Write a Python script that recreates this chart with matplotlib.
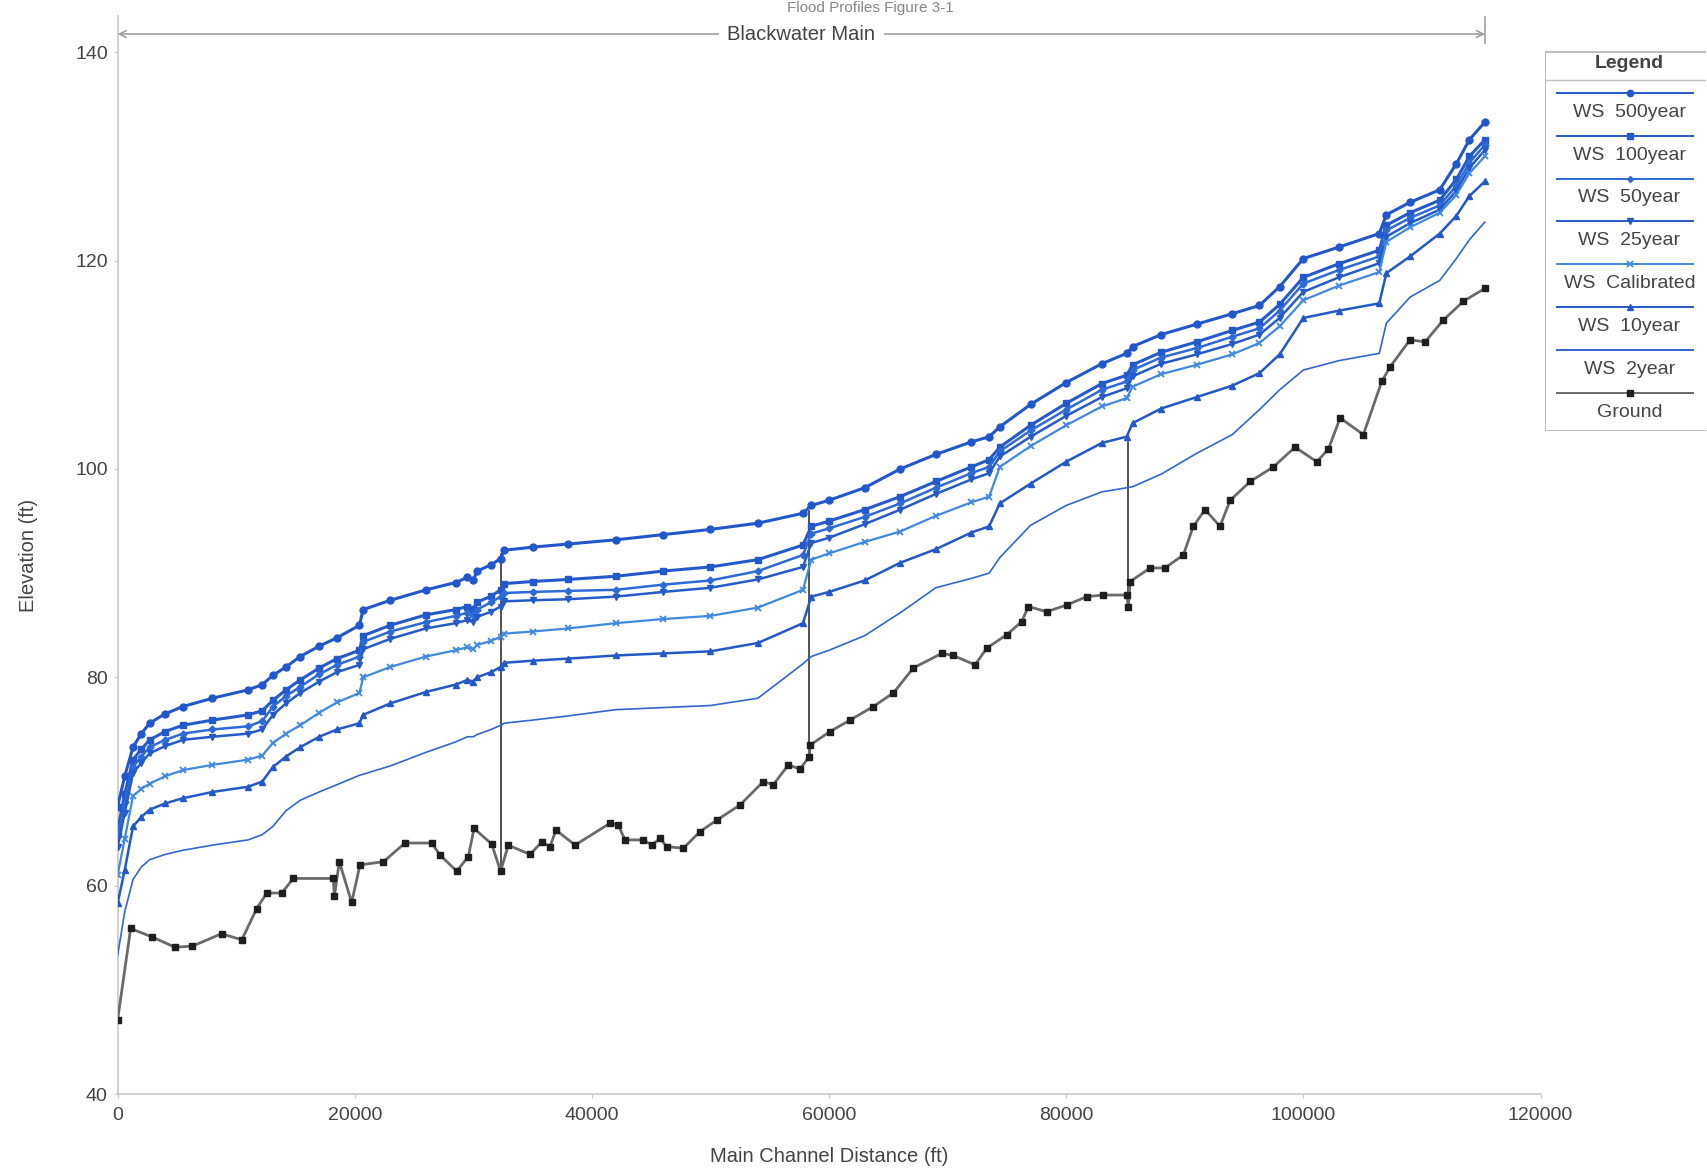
import matplotlib
matplotlib.use("Agg")
import matplotlib.pyplot as plt
from matplotlib.patches import Rectangle

plt.rcParams['font.family'] = ['Liberation Sans', 'DejaVu Sans']

# ---------------- data ----------------
stations = [0, 600, 1300, 2000, 2700, 4000, 5500, 8000, 11000, 12200, 13100, 14200,
            15400, 17000, 18500, 20400, 20700, 23000, 26000, 28500, 29500, 30000,
            30300, 31500, 32300, 32600, 35000, 38000, 42000, 46000, 50000, 54000,
            57800, 58500, 60000, 63000, 66000, 69000, 72000, 73500, 74400, 77000,
            80000, 83000, 85100, 85600, 88000, 91000, 94000, 96300, 98000, 100000,
            103000, 106400, 107000, 109000, 111500, 112900, 114000, 115300]

ws_500 = [67.6, 70.5, 73.3, 74.6, 75.6, 76.5, 77.2, 78.0, 78.8, 79.3, 80.2, 81.0,
          82.0, 83.0, 83.8, 85.0, 86.5, 87.4, 88.4, 89.1, 89.6, 89.3,
          90.2, 90.8, 91.4, 92.2, 92.5, 92.8, 93.2, 93.7, 94.2, 94.8,
          95.75, 96.5, 97.0, 98.2, 100.0, 101.4, 102.6, 103.1, 104.05, 106.2,
          108.3, 110.1, 111.1, 111.75, 112.9, 113.9, 114.9, 115.7, 117.5, 120.2,
          121.3, 122.6, 124.4, 125.6, 126.8, 129.3, 131.6, 133.3]

ws_100 = [65.3, 68.8, 72.1, 73.1, 74.0, 74.8, 75.4, 75.9, 76.4, 76.8, 77.8, 78.8,
          79.75, 80.9, 81.8, 82.6, 84.0, 85.0, 86.0, 86.5, 86.8, 86.6,
          87.2, 87.8, 88.4, 89.0, 89.2, 89.4, 89.7, 90.2, 90.6, 91.3,
          92.7, 94.5, 95.0, 96.1, 97.35, 98.8, 100.2, 100.9, 102.1, 104.2,
          106.3, 108.2, 109.0, 110.0, 111.2, 112.2, 113.3, 114.1, 115.8, 118.4,
          119.7, 121.0, 123.4, 124.6, 125.8, 127.8, 130.0, 131.6]

ws_50 = [64.8, 68.0, 71.4, 72.4, 73.3, 74.0, 74.6, 75.0, 75.3, 75.8, 77.2, 78.2,
         79.1, 80.3, 81.2, 82.0, 83.4, 84.4, 85.3, 85.9, 86.2, 86.0,
         86.5, 87.2, 87.75, 88.1, 88.2, 88.3, 88.4, 88.9, 89.3, 90.2,
         91.75, 93.8, 94.3, 95.4, 96.7, 98.2, 99.6, 100.2, 101.7, 103.7,
         105.7, 107.6, 108.4, 109.5, 110.7, 111.6, 112.7, 113.5, 115.2, 117.8,
         119.1, 120.4, 122.9, 124.1, 125.3, 127.2, 129.4, 131.1]

ws_25 = [63.7, 67.0, 70.8, 71.8, 72.7, 73.4, 74.0, 74.3, 74.6, 75.0, 76.4, 77.5,
         78.5, 79.6, 80.5, 81.2, 82.7, 83.7, 84.7, 85.2, 85.5, 85.3,
         85.8, 86.3, 86.8, 87.3, 87.4, 87.5, 87.75, 88.2, 88.6, 89.4,
         90.6, 92.9, 93.4, 94.7, 96.1, 97.6, 99.0, 99.6, 101.2, 103.1,
         105.1, 106.9, 107.75, 108.9, 110.1, 111.0, 112.0, 112.9, 114.5, 117.0,
         118.4, 119.75, 122.3, 123.6, 124.9, 126.7, 128.9, 130.6]

ws_cal = [61.0, 64.5, 68.6, 69.3, 69.8, 70.5, 71.1, 71.6, 72.1, 72.5, 73.7, 74.6,
          75.4, 76.6, 77.6, 78.5, 80.0, 81.0, 82.0, 82.6, 82.9, 82.7,
          83.1, 83.5, 83.9, 84.2, 84.4, 84.7, 85.2, 85.6, 85.9, 86.7,
          88.4, 91.3, 91.9, 93.0, 94.0, 95.5, 96.8, 97.35, 100.2, 102.2,
          104.2, 106.0, 106.8, 107.9, 109.1, 110.0, 111.0, 112.1, 113.7, 116.2,
          117.6, 118.9, 121.8, 123.2, 124.6, 126.3, 128.4, 130.0]

ws_10 = [58.3, 61.5, 65.7, 66.6, 67.3, 67.9, 68.4, 69.0, 69.5, 70.0, 71.4, 72.4,
         73.3, 74.3, 75.0, 75.6, 76.4, 77.5, 78.6, 79.3, 79.75, 79.6,
         80.0, 80.5, 81.0, 81.4, 81.6, 81.8, 82.1, 82.3, 82.5, 83.3,
         85.2, 87.75, 88.2, 89.3, 91.0, 92.3, 93.9, 94.5, 96.7, 98.6,
         100.7, 102.5, 103.1, 104.4, 105.8, 106.9, 108.0, 109.2, 111.0, 114.5,
         115.2, 115.9, 118.8, 120.4, 122.6, 124.3, 126.2, 127.6]

ws_2 = [53.3, 57.5, 60.6, 61.8, 62.5, 63.0, 63.4, 63.9, 64.4, 64.9, 65.7, 67.2,
        68.2, 69.0, 69.7, 70.6, 70.7, 71.5, 72.8, 73.8, 74.3, 74.3,
        74.5, 75.0, 75.4, 75.6, 75.9, 76.3, 76.9, 77.1, 77.3, 78.0,
        81.3, 82.0, 82.6, 84.0, 86.2, 88.6, 89.5, 90.0, 91.5, 94.6,
        96.5, 97.8, 98.2, 98.3, 99.5, 101.5, 103.3, 105.7, 107.6, 109.5,
        110.4, 111.1, 114.0, 116.5, 118.1, 120.2, 122.0, 123.7]

ground_x = [0, 1100, 2870, 4840, 6300, 8780, 10470, 11730, 12575, 13840, 14820, 18190,
            18280, 18700, 19740, 20440, 22410, 24240, 26490, 27190, 28600, 29580,
            30060, 31550, 32300, 32950, 34780, 35770, 36470, 36970, 38580, 41530,
            42230, 42790, 44340, 45050, 45750, 46310, 47710, 49120, 50530, 52490,
            54460, 55300, 56570, 57550, 58340, 58400, 60080, 61770, 63730, 65420,
            67110, 69500, 70480, 72310, 73300, 74990, 76250, 76810, 78360, 80050,
            81740, 83130, 85100, 85240, 85390, 87080, 88330, 89880, 90720, 91710,
            92970, 93830, 95520, 97470, 99300, 101130, 102110, 103100, 105060, 106610,
            107310, 109000, 110260, 111810, 113500, 115330]
ground_y = [47.1, 55.9, 55.1, 54.1, 54.2, 55.4, 54.8, 57.8, 59.3, 59.3, 60.7, 60.7,
            59.0, 62.3, 58.4, 62.0, 62.3, 64.1, 64.1, 62.95, 61.4, 62.8,
            65.5, 64.0, 61.4, 63.9, 63.0, 64.2, 63.75, 65.35, 63.9, 66.0,
            65.8, 64.4, 64.4, 63.9, 64.55, 63.75, 63.6, 65.2, 66.3, 67.75,
            70.0, 69.7, 71.6, 71.2, 72.4, 73.5, 74.8, 75.9, 77.2, 78.5,
            80.9, 82.3, 82.1, 81.2, 82.8, 84.1, 85.35, 86.8, 86.3, 86.95,
            87.75, 87.9, 87.9, 86.8, 89.2, 90.5, 90.5, 91.75, 94.5, 96.1,
            94.5, 97.0, 98.8, 100.2, 102.1, 100.7, 101.9, 104.9, 103.3, 108.4,
            109.8, 112.4, 112.2, 114.3, 116.1, 117.35]

structure_x = [32300, 58350, 85240]
structure_low = [61.4, 72.4, 86.8]
structure_high = [91.8, 96.0, 102.6]

series_labels = ["WS  500year", "WS  100year", "WS  50year", "WS  25year",
                 "WS  Calibrated", "WS  10year", "WS  2year", "Ground"]

# ---------------- styles ----------------
ws_series = [ws_500, ws_100, ws_50, ws_25, ws_cal, ws_10, ws_2]
ws_styles = [
    dict(color='#2257cc', marker='o', ms=5.0, lw=2.2),
    dict(color='#2459cc', marker='s', ms=4.5, lw=2.2),
    dict(color='#2d6ad6', marker='D', ms=3.5, lw=1.8),
    dict(color='#255bc9', marker='v', ms=5.0, lw=1.8),
    dict(color='#4088e0', marker='x', ms=5.0, lw=1.6, mew=1.3),
    dict(color='#2358c6', marker='^', ms=5.0, lw=1.8),
    dict(color='#3366cc', marker=None, ms=0, lw=1.2),
]
ground_style = dict(color='#6a6a6a', marker='s', ms=4.5, lw=2.0,
                    mfc='#1e1e1e', mec='#1e1e1e')

fig = plt.figure(figsize=(17.07, 11.70), dpi=100)
ax = fig.add_axes([0.06889, 0.06487, 0.83358, 0.92145])

for xs, ys in zip(structure_x, zip(structure_low, structure_high)):
    ax.plot([xs, xs], list(ys), color='#333333', lw=1.2, zorder=2)

for ys, st in zip(ws_series, ws_styles):
    ax.plot(stations, ys, zorder=3, **st)
ax.plot(ground_x, ground_y, zorder=4, **ground_style)

ax.set_xlim(0, 120000)
ax.set_ylim(40, 143.48)
ax.set_xticks(range(0, 120001, 20000))
ax.set_yticks(range(40, 141, 20))
ax.tick_params(axis='both', labelsize=14, labelcolor='#444444', color='#c8c8c8',
               length=3)
ax.tick_params(axis='x', pad=6)
ax.tick_params(axis='y', pad=4)
for s in ['top', 'right']:
    ax.spines[s].set_visible(False)
for s in ['left', 'bottom']:
    ax.spines[s].set_color('#c8c8c8')
    ax.spines[s].set_linewidth(1.2)

ax.set_xlabel("Main Channel Distance (ft)", fontsize=14.5, color='#444444', labelpad=17)
ax.set_ylabel("Elevation (ft)", fontsize=14.5, color='#444444', labelpad=27)

# reach bracket
reach_end = ground_x[-1]
bracket_y = 141.75
ax.annotate('', xy=(0, bracket_y), xytext=(reach_end, bracket_y),
            arrowprops=dict(arrowstyle='<->', color='#a0a0a0', lw=1.2,
                            mutation_scale=12, shrinkA=0, shrinkB=0))
ax.plot([reach_end, reach_end], [140.9, 143.4], color='#a0a0a0', lw=1.2)
ax.text(reach_end / 2, bracket_y, "Blackwater Main", fontsize=14.5, color='#444444',
        ha='center', va='center',
        bbox=dict(facecolor='white', edgecolor='none', pad=6))

fig.text(0.51, 0.999, "Flood Profiles Figure 3-1", fontsize=11, color='#888888',
         ha='center', va='top')

# ---------------- legend panel ----------------
lax = fig.add_axes([1545 / 1707, 1 - 431 / 1170, 1 - 1545 / 1707 - 0.0005, (431 - 51) / 1170])
lax.set_xlim(1545, 1707)
lax.set_ylim(431, 51)
lax.axis('off')
lax.add_patch(Rectangle((1545.5, 51.5), 162, 379, fill=False, edgecolor='#b0b0b0', lw=1.2))
lax.text(1630, 63, "Legend", fontsize=14, fontweight='bold', color='#444444',
         ha='center', va='center')
lax.plot([1546, 1707], [80, 80], color='#c0c0c0', lw=1.0)
all_styles = ws_styles + [ground_style]
for i, (lab, st) in enumerate(zip(series_labels, all_styles)):
    yl = 92.7 + i * 42.9
    lax.plot([1557, 1694], [yl, yl], color=st['color'], lw=1.4)
    if st.get('marker'):
        kw = dict(color=st['color'], marker=st['marker'], ms=st['ms'] - 0.5, lw=0)
        if 'mfc' in st:
            kw.update(mfc=st['mfc'], mec=st['mec'])
        if 'mew' in st:
            kw.update(mew=st['mew'])
        lax.plot([1630], [yl], **kw)
    lax.text(1630, yl + 19.5, lab, fontsize=14, color='#444444', ha='center', va='center')

fig.savefig("out.png", dpi=100)
